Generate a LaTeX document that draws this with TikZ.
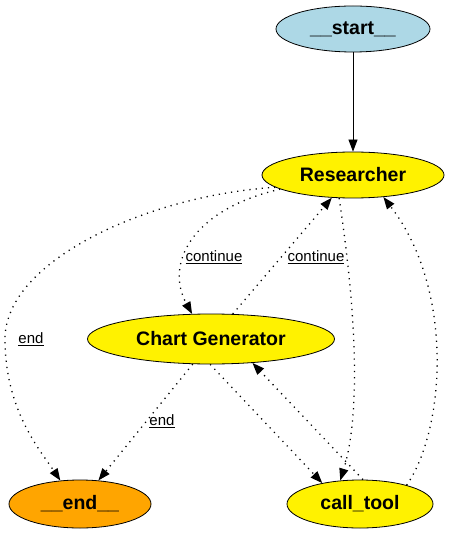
\documentclass[tikz,border=0pt]{standalone}
\usepackage{fontspec}
\setmainfont{Liberation Sans}
\usepackage{tikz}
\usetikzlibrary{arrows.meta, shapes.geometric}

\definecolor{startblue}{HTML}{ADD8E6}
\definecolor{endorange}{HTML}{FFA500}

\begin{document}
\begin{tikzpicture}[
    state/.style={ellipse, draw=black, line width=0.8pt, fill=yellow,
                  inner sep=0pt, minimum height=46pt,
                  font=\fontsize{19.5}{22}\selectfont\bfseries},
    lbl/.style={font=\fontsize{15}{18}\selectfont, inner sep=1pt},
    arr/.style={-{Triangle[length=12pt, width=9pt]}, line width=0.8pt},
    cond/.style={arr, line width=1.3pt, dash pattern=on 1.2pt off 5pt},
    x=1pt, y=-1pt
  ]
  \useasboundingbox (0,0) rectangle (450,534);

  \node[state, fill=startblue, minimum width=154pt] (start) at (353, 29) {\_\_start\_\_};
  \node[state, minimum width=182pt] (res) at (353, 175) {Researcher};
  \node[state, minimum width=247pt, minimum height=50pt] (chart) at (211, 339) {Chart Generator};
  \node[state, fill=endorange, minimum width=142pt, minimum height=48pt] (fin) at (80, 504) {\_\_end\_\_};
  \node[state, minimum width=146pt, minimum height=48pt] (tool) at (360, 504) {call\_tool};

  \draw[arr] (start) -- (res);

  % researcher edges
  \draw[cond] (res.189) .. controls (150,195) and (5,260) .. (5,339)
    .. controls (5,410) and (40,450) .. (fin.130);
  \draw[cond] (res.191) .. controls (190,210) and (165,265) .. (chart.127);
  \draw[cond] (chart.49) -- (res.227);
  \draw[cond] (res.239) .. controls (350,270) and (365,400) .. (tool.130);
  \draw[cond] (tool.22) .. controls (445,430) and (455,290) .. (res.324);

  % chart generator edges
  \draw[cond] (chart.234) -- (fin.52);
  \draw[cond] (chart.268) -- (tool.151);
  \draw[cond] (tool.83) -- (chart.330);

  % edge labels
  \node[lbl] (l1) at (214, 257) {\underline{continue}};
  \node[lbl] (l2) at (316, 257) {\underline{continue}};
  \node[lbl] (l3) at (31, 339) {\underline{end}};
  \node[lbl] (l4) at (162, 421) {\underline{end}};
\end{tikzpicture}
\end{document}
